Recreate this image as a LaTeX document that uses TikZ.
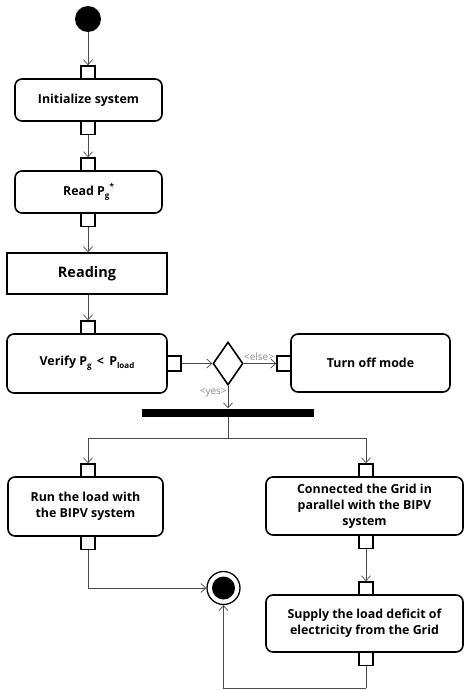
\documentclass[tikz,border=0pt]{standalone}
\usepackage{fontspec}
\setmainfont{Open Sans}
\usetikzlibrary{arrows.meta,shapes.geometric}
\definecolor{flowgray}{HTML}{4A4A4A}
\definecolor{guardgray}{HTML}{8A8A8A}
\begin{document}
\begin{tikzpicture}[x=1pt,y=-1pt,
  action/.style={draw, line width=1.6pt, rounded corners=7pt, align=center,
    font=\bfseries\fontsize{12.4}{16}\selectfont, inner sep=0pt},
  plainbox/.style={draw, line width=1.6pt, font=\bfseries\fontsize{14.5}{16}\selectfont, inner sep=0pt},
  pinbox/.style={draw, line width=1.5pt, fill=white, minimum width=14pt, minimum height=13pt, inner sep=0pt},
  flow/.style={draw=flowgray, line width=0.7pt, -{Straight Barb[length=5pt,width=9pt,line width=0.7pt]}},
  link/.style={draw=flowgray, line width=0.7pt},
  guard/.style={font=\fontsize{10}{12}\selectfont, text=guardgray, inner sep=1pt}]
\useasboundingbox (0,0) rectangle (464,690);

% start and end
\node[circle, fill=black, minimum size=26pt, inner sep=0pt] (start) at (88,19) {};
\node[circle, draw, line width=1.3pt, minimum size=33pt, inner sep=0pt] (final) at (223.5,588) {};
\fill (final.center) circle (11.5pt);

% actions
\node[action, minimum width=147pt, minimum height=42pt] (init) at (88.5,100) {Initialize system};
\node[action, minimum width=147pt, minimum height=42pt] (read) at (88.5,192) {Read P\raisebox{-0.45ex}{\footnotesize g}\raisebox{0.9ex}{\footnotesize *}};
\node[plainbox, minimum width=160pt, minimum height=41pt] (reading) at (87,273.5) {Reading};
\node[action, minimum width=160pt, minimum height=59pt] (verify) at (87,363.5) {Verify P\raisebox{-0.45ex}{\footnotesize g} \,<\, P\raisebox{-0.45ex}{\footnotesize load}};
\node[action, minimum width=159pt, minimum height=58pt] (off) at (370.5,363) {Turn off mode};
\node[action, minimum width=155pt, minimum height=59pt] (run) at (85.5,506.5) {Run the load with\\the BIPV system};
\node[action, minimum width=197pt, minimum height=58pt] (conn) at (364.5,506) {Connected the Grid in\\parallel with the BIPV\\system};
\node[action, minimum width=197pt, minimum height=57pt] (supply) at (364.5,623.5) {Supply the load deficit of\\electricity from the Grid};

% pins
\node[pinbox] (p1in) at (88,72.5) {};
\node[pinbox] (p1out) at (88,128) {};
\node[pinbox] (p2in) at (88,164.5) {};
\node[pinbox] (p2out) at (88,220) {};
\node[pinbox] (p3in) at (88,327.5) {};
\node[pinbox, minimum width=14pt, minimum height=15pt] (p3out) at (174,363.5) {};
\node[pinbox, minimum width=14pt, minimum height=15pt] (pelse) at (284,363.5) {};
\node[pinbox] (p4in) at (88,470.5) {};
\node[pinbox] (p4out) at (88,543) {};
\node[pinbox] (p5in) at (366,470.5) {};
\node[pinbox] (p5out) at (366,542) {};
\node[pinbox] (p6in) at (366,588.5) {};
\node[pinbox] (p6out) at (366,659) {};

% decision and fork bar
\node[diamond, draw, line width=1.6pt, minimum width=30pt, minimum height=43pt, inner sep=0pt, aspect=0.7] (dec) at (228,363.5) {};
\node[fill=black, minimum width=172pt, minimum height=8pt, inner sep=0pt] (bar) at (228,412.5) {};
\coordinate (fork) at (228,438);
\coordinate (loopturn) at (366,688);

% flows
\draw[flow] (start) -- (p1in.north);
\draw[flow] (p1out.south) -- (p2in.north);
\draw[flow] (p2out.south) -- (reading.north -| p2out);
\draw[flow] (reading.south -| p3in) -- (p3in.north);
\draw[flow] (p3out.east) -- (dec.west);
\draw[flow] (dec.east) -- node[guard, above, pos=0.5, yshift=2pt, xshift=-1pt] {<else>} (pelse.west);
\draw[flow] (dec.south) -- node[guard, left, pos=0.3] {<yes>} (bar.north);
\draw[link] (bar.south) -- (fork);
\draw[flow] (fork) -| (p4in.north);
\draw[flow] (fork) -| (p5in.north);
\draw[flow] (p4out.south) |- (final.west);
\draw[flow] (p5out.south) -- (p6in.north);
\draw[link] (p6out.south) -- (loopturn);
\draw[flow] (loopturn) -| (final.south);
\end{tikzpicture}
\end{document}
